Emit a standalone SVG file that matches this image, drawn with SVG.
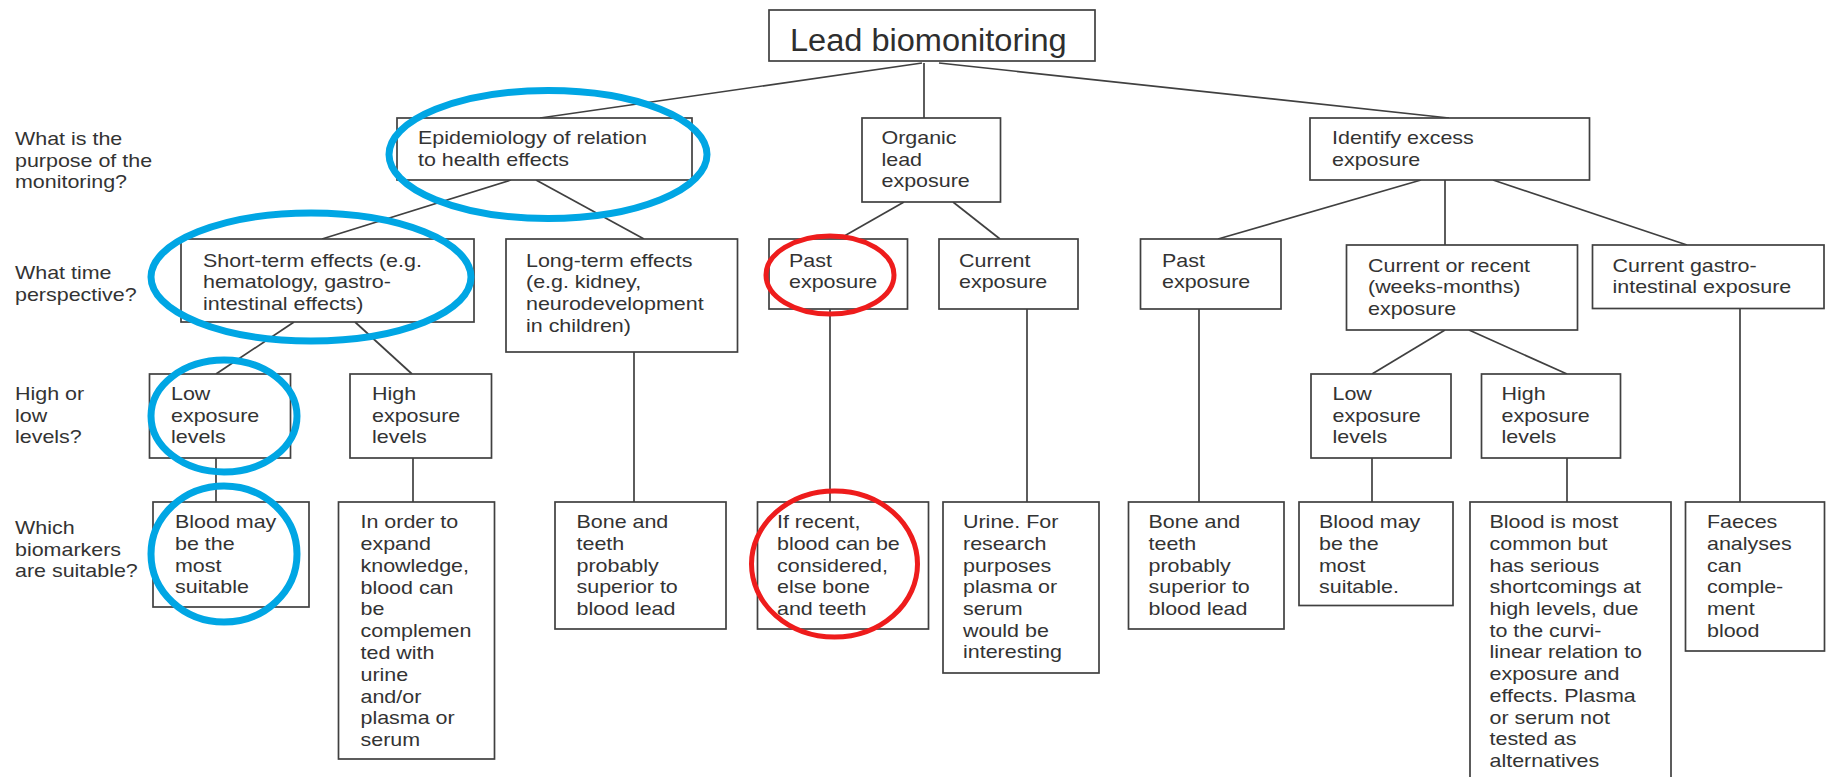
<svg xmlns="http://www.w3.org/2000/svg" width="1826" height="777" viewBox="0 0 1826 777">
<style>
.bg{fill:#ffffff}
.box{fill:#ffffff;stroke:#404040;stroke-width:1.7}
.ln{stroke:#404040;stroke-width:1.7;fill:none}
.t{font-family:"Liberation Sans",Arial,Helvetica,sans-serif;font-size:18.5px;fill:#333333}
.title{font-family:"Liberation Sans",Arial,Helvetica,sans-serif;font-size:31px;fill:#2e2e2e}
.blue{fill:none;stroke:#00a6e4;stroke-width:7}
.red{fill:none;stroke:#ee1c1c;stroke-width:5}
</style>
<rect class="bg" x="0" y="0" width="1826" height="777"/>

<g id="questions">
<text class="t" transform="translate(15,145) scale(1.16,1)"><tspan x="0" y="0">What is the</tspan><tspan x="0" dy="21.7">purpose of the</tspan><tspan x="0" dy="21.7">monitoring?</tspan></text>
<text class="t" transform="translate(15,279) scale(1.16,1)"><tspan x="0" y="0">What time</tspan><tspan x="0" dy="21.7">perspective?</tspan></text>
<text class="t" transform="translate(15,400) scale(1.16,1)"><tspan x="0" y="0">High or</tspan><tspan x="0" dy="21.7">low</tspan><tspan x="0" dy="21.7">levels?</tspan></text>
<text class="t" transform="translate(15,534) scale(1.16,1)"><tspan x="0" y="0">Which</tspan><tspan x="0" dy="21.7">biomarkers</tspan><tspan x="0" dy="21.7">are suitable?</tspan></text>
</g>

<g id="connectors">
<line class="ln" x1="922" y1="63" x2="540" y2="118"/>
<line class="ln" x1="924" y1="63" x2="924" y2="118"/>
<line class="ln" x1="939" y1="63" x2="1449" y2="118"/>
<line class="ln" x1="511" y1="180" x2="322" y2="239"/>
<line class="ln" x1="536" y1="180" x2="644" y2="239"/>
<line class="ln" x1="904" y1="202" x2="839" y2="239"/>
<line class="ln" x1="953" y1="202" x2="1000" y2="239"/>
<line class="ln" x1="1421" y1="180" x2="1218" y2="239"/>
<line class="ln" x1="1445" y1="180" x2="1445" y2="245"/>
<line class="ln" x1="1493" y1="180" x2="1687" y2="245"/>
<line class="ln" x1="294" y1="322" x2="216" y2="374"/>
<line class="ln" x1="355" y1="322" x2="412" y2="374"/>
<line class="ln" x1="1445" y1="330" x2="1372" y2="374"/>
<line class="ln" x1="1469" y1="330" x2="1567" y2="374"/>
<line class="ln" x1="216" y1="458" x2="216" y2="502"/>
<line class="ln" x1="413" y1="458" x2="413" y2="502"/>
<line class="ln" x1="634" y1="352" x2="634" y2="502"/>
<line class="ln" x1="830" y1="309" x2="830" y2="502"/>
<line class="ln" x1="1027" y1="309" x2="1027" y2="502"/>
<line class="ln" x1="1199" y1="309" x2="1199" y2="502"/>
<line class="ln" x1="1372" y1="458" x2="1372" y2="502"/>
<line class="ln" x1="1567" y1="458" x2="1567" y2="502"/>
<line class="ln" x1="1740" y1="308" x2="1740" y2="502"/>
</g>

<g id="root">
<rect class="box" x="769" y="10" width="326" height="51"/>
<text class="title" transform="translate(790,50.5) scale(1.05,1)">Lead biomonitoring</text>
</g>

<g id="epidemiology">
<rect class="box" x="397" y="118" width="295" height="62"/>
<text class="t" transform="translate(418,144) scale(1.16,1)"><tspan x="0" y="0">Epidemiology of relation</tspan><tspan x="0" dy="21.7">to health effects</tspan></text>
</g>
<g id="organic">
<rect class="box" x="862" y="118" width="138.5" height="84"/>
<text class="t" transform="translate(881.5,144) scale(1.16,1)"><tspan x="0" y="0">Organic</tspan><tspan x="0" dy="21.7">lead</tspan><tspan x="0" dy="21.7">exposure</tspan></text>
</g>
<g id="identify">
<rect class="box" x="1310" y="118" width="279.5" height="62"/>
<text class="t" transform="translate(1332,144) scale(1.16,1)"><tspan x="0" y="0">Identify excess</tspan><tspan x="0" dy="21.7">exposure</tspan></text>
</g>

<g id="short-term">
<rect class="box" x="181" y="239" width="293" height="83"/>
<text class="t" transform="translate(203,266.7) scale(1.16,1)"><tspan x="0" y="0">Short-term effects (e.g.</tspan><tspan x="0" dy="21.7">hematology, gastro-</tspan><tspan x="0" dy="21.7">intestinal effects)</tspan></text>
</g>
<g id="long-term">
<rect class="box" x="506" y="239" width="231.5" height="113"/>
<text class="t" transform="translate(526,266.7) scale(1.16,1)"><tspan x="0" y="0">Long-term effects</tspan><tspan x="0" dy="21.7">(e.g. kidney,</tspan><tspan x="0" dy="21.7">neurodevelopment</tspan><tspan x="0" dy="21.7">in children)</tspan></text>
</g>
<g id="past-organic">
<rect class="box" x="769" y="239" width="138.5" height="70"/>
<text class="t" transform="translate(789,266.5) scale(1.16,1)"><tspan x="0" y="0">Past</tspan><tspan x="0" dy="21.7">exposure</tspan></text>
</g>
<g id="current-organic">
<rect class="box" x="939" y="239" width="139" height="70"/>
<text class="t" transform="translate(959,266.5) scale(1.16,1)"><tspan x="0" y="0">Current</tspan><tspan x="0" dy="21.7">exposure</tspan></text>
</g>
<g id="past-excess">
<rect class="box" x="1140.5" y="239" width="140.5" height="70"/>
<text class="t" transform="translate(1162,266.5) scale(1.16,1)"><tspan x="0" y="0">Past</tspan><tspan x="0" dy="21.7">exposure</tspan></text>
</g>
<g id="current-recent">
<rect class="box" x="1346.5" y="245" width="231" height="85"/>
<text class="t" transform="translate(1368,271.7) scale(1.16,1)"><tspan x="0" y="0">Current or recent</tspan><tspan x="0" dy="21.7">(weeks-months)</tspan><tspan x="0" dy="21.7">exposure</tspan></text>
</g>
<g id="current-gastro">
<rect class="box" x="1592.5" y="245" width="231.5" height="63.5"/>
<text class="t" transform="translate(1612.5,271.7) scale(1.16,1)"><tspan x="0" y="0">Current gastro-</tspan><tspan x="0" dy="21.7">intestinal exposure</tspan></text>
</g>

<g id="low-left">
<rect class="box" x="149.5" y="374" width="141" height="84"/>
<text class="t" transform="translate(171,400) scale(1.16,1)"><tspan x="0" y="0">Low</tspan><tspan x="0" dy="21.7">exposure</tspan><tspan x="0" dy="21.7">levels</tspan></text>
</g>
<g id="high-left">
<rect class="box" x="350" y="374" width="141.5" height="84"/>
<text class="t" transform="translate(372,400) scale(1.16,1)"><tspan x="0" y="0">High</tspan><tspan x="0" dy="21.7">exposure</tspan><tspan x="0" dy="21.7">levels</tspan></text>
</g>
<g id="low-right">
<rect class="box" x="1311" y="374" width="140" height="84"/>
<text class="t" transform="translate(1332.5,400) scale(1.16,1)"><tspan x="0" y="0">Low</tspan><tspan x="0" dy="21.7">exposure</tspan><tspan x="0" dy="21.7">levels</tspan></text>
</g>
<g id="high-right">
<rect class="box" x="1481.5" y="374" width="139" height="84"/>
<text class="t" transform="translate(1501.5,400) scale(1.16,1)"><tspan x="0" y="0">High</tspan><tspan x="0" dy="21.7">exposure</tspan><tspan x="0" dy="21.7">levels</tspan></text>
</g>

<g id="blood-left">
<rect class="box" x="153" y="502" width="156" height="105"/>
<text class="t" transform="translate(175,528.3) scale(1.16,1)"><tspan x="0" y="0">Blood may</tspan><tspan x="0" dy="21.7">be the</tspan><tspan x="0" dy="21.7">most</tspan><tspan x="0" dy="21.7">suitable</tspan></text>
</g>
<g id="expand">
<rect class="box" x="338.5" y="502" width="156" height="257"/>
<text class="t" transform="translate(360.5,528.3) scale(1.16,1)"><tspan x="0" y="0">In order to</tspan><tspan x="0" dy="21.8">expand</tspan><tspan x="0" dy="21.8">knowledge,</tspan><tspan x="0" dy="21.8">blood can</tspan><tspan x="0" dy="21.8">be</tspan><tspan x="0" dy="21.8">complemen</tspan><tspan x="0" dy="21.8">ted with</tspan><tspan x="0" dy="21.8">urine</tspan><tspan x="0" dy="21.8">and/or</tspan><tspan x="0" dy="21.8">plasma or</tspan><tspan x="0" dy="21.8">serum</tspan></text>
</g>
<g id="bone-left">
<rect class="box" x="555" y="502" width="171" height="127"/>
<text class="t" transform="translate(576.5,528.3) scale(1.16,1)"><tspan x="0" y="0">Bone and</tspan><tspan x="0" dy="21.7">teeth</tspan><tspan x="0" dy="21.7">probably</tspan><tspan x="0" dy="21.7">superior to</tspan><tspan x="0" dy="21.7">blood lead</tspan></text>
</g>
<g id="if-recent">
<rect class="box" x="757.5" y="502" width="171" height="127"/>
<text class="t" transform="translate(777,528.3) scale(1.16,1)"><tspan x="0" y="0">If recent,</tspan><tspan x="0" dy="21.7">blood can be</tspan><tspan x="0" dy="21.7">considered,</tspan><tspan x="0" dy="21.7">else bone</tspan><tspan x="0" dy="21.7">and teeth</tspan></text>
</g>
<g id="urine">
<rect class="box" x="943" y="502" width="156" height="171"/>
<text class="t" transform="translate(963,528.3) scale(1.16,1)"><tspan x="0" y="0">Urine. For</tspan><tspan x="0" dy="21.7">research</tspan><tspan x="0" dy="21.7">purposes</tspan><tspan x="0" dy="21.7">plasma or</tspan><tspan x="0" dy="21.7">serum</tspan><tspan x="0" dy="21.7">would be</tspan><tspan x="0" dy="21.7">interesting</tspan></text>
</g>
<g id="bone-right">
<rect class="box" x="1128.5" y="502" width="155.5" height="127"/>
<text class="t" transform="translate(1148.5,528.3) scale(1.16,1)"><tspan x="0" y="0">Bone and</tspan><tspan x="0" dy="21.7">teeth</tspan><tspan x="0" dy="21.7">probably</tspan><tspan x="0" dy="21.7">superior to</tspan><tspan x="0" dy="21.7">blood lead</tspan></text>
</g>
<g id="blood-right">
<rect class="box" x="1299" y="502" width="154" height="103.5"/>
<text class="t" transform="translate(1319,528.3) scale(1.16,1)"><tspan x="0" y="0">Blood may</tspan><tspan x="0" dy="21.7">be the</tspan><tspan x="0" dy="21.7">most</tspan><tspan x="0" dy="21.7">suitable.</tspan></text>
</g>
<g id="blood-common">
<rect class="box" x="1470" y="502" width="201" height="300"/>
<text class="t" transform="translate(1489.5,528.3) scale(1.16,1)"><tspan x="0" y="0">Blood is most</tspan><tspan x="0" dy="21.7">common but</tspan><tspan x="0" dy="21.7">has serious</tspan><tspan x="0" dy="21.7">shortcomings at</tspan><tspan x="0" dy="21.7">high levels, due</tspan><tspan x="0" dy="21.7">to the curvi-</tspan><tspan x="0" dy="21.7">linear relation to</tspan><tspan x="0" dy="21.7">exposure and</tspan><tspan x="0" dy="21.7">effects. Plasma</tspan><tspan x="0" dy="21.7">or serum not</tspan><tspan x="0" dy="21.7">tested as</tspan><tspan x="0" dy="21.7">alternatives</tspan></text>
</g>
<g id="faeces">
<rect class="box" x="1685.5" y="502" width="139" height="149"/>
<text class="t" transform="translate(1707,528.3) scale(1.16,1)"><tspan x="0" y="0">Faeces</tspan><tspan x="0" dy="21.7">analyses</tspan><tspan x="0" dy="21.7">can</tspan><tspan x="0" dy="21.7">comple-</tspan><tspan x="0" dy="21.7">ment</tspan><tspan x="0" dy="21.7">blood</tspan></text>
</g>

<g id="annotations">
<ellipse class="blue" cx="548" cy="154.5" rx="159" ry="64"/>
<ellipse class="blue" cx="311" cy="277" rx="160" ry="64"/>
<ellipse class="blue" cx="224" cy="416" rx="73" ry="56"/>
<ellipse class="blue" cx="224" cy="554" rx="73" ry="68"/>
<ellipse class="red" cx="830" cy="275" rx="64" ry="39"/>
<ellipse class="red" cx="834.5" cy="564" rx="83" ry="73"/>
</g>
</svg>
